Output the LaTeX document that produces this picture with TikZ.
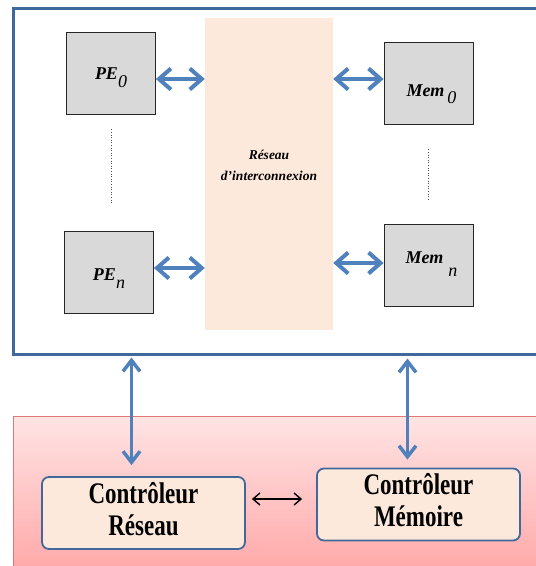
\documentclass[tikz,border=0pt]{standalone}
\usepackage{fontspec}
\setmainfont{Liberation Serif}
\usetikzlibrary{arrows.meta,positioning}
\definecolor{frameblue}{HTML}{41689A}
\definecolor{arrowblue}{HTML}{4F81BD}
\definecolor{peach}{HTML}{FDE9DB}
\definecolor{unitgray}{HTML}{D9D9D9}
\definecolor{pinktop}{HTML}{FFE4E4}
\definecolor{pinkbot}{HTML}{FFA4A4}
\definecolor{pinkline}{HTML}{E07878}
\newcommand{\unitlabel}[3]{\raisebox{#1}[0pt][0pt]{#2\raisebox{#3}{\mdseries\strut}}}
\newcommand{\ctrltext}[2]{\scalebox{1}[1.3]{\begin{tabular}{@{}c@{}}#1\\#2\end{tabular}}}
\tikzset{
  framebox/.style={
    draw=frameblue,line width=3pt,minimum width=537pt,minimum height=346pt
  },
  zonebox/.style={
    draw=pinkline,line width=.8pt,top color=pinktop,bottom color=pinkbot,
    minimum width=537pt,minimum height=165pt
  },
  unitbox/.style={
    draw=black!85,fill=unitgray,line width=.8pt,
    minimum width=89pt,minimum height=82pt,
    font=\bfseries\itshape\fontsize{18}{20}\selectfont
  },
  netbox/.style={fill=peach,minimum width=128pt,minimum height=312pt},
  nettext/.style={align=center,font=\bfseries\itshape\fontsize{13.5}{21}\selectfont},
  ctrlbox/.style={
    rounded corners=7pt,draw=frameblue,fill=peach,line width=1.8pt,
    minimum width=203pt,minimum height=72pt,
    font=\bfseries\fontsize{23}{24.6}\selectfont
  },
  biarrow/.style={
    {Straight Barb[length=12pt,width=21pt]}-{Straight Barb[length=12pt,width=21pt]},
    draw=arrowblue,line width=4pt,line cap=round
  },
  vbiarrow/.style={
    {Straight Barb[length=11pt,width=17pt]}-{Straight Barb[length=11pt,width=17pt]},
    draw=arrowblue,line width=3.5pt,line cap=round
  },
  ctrlarrow/.style={
    {Straight Barb[length=7pt,width=12pt]}-{Straight Barb[length=7pt,width=12pt]},
    draw=black,line width=1.4pt
  },
  dotline/.style={draw=black!70,line width=.6pt,dotted}
}

\begin{document}
\begin{tikzpicture}[x=1pt,y=-1pt]
\useasboundingbox (0,0) rectangle (536,566);

\node[framebox] (board) at (281.5,181) {};
\node[zonebox] (zone) at (281.5,499) {};

\node[netbox] (net) at (269,174) {};
\node[nettext] (netlabel) at ([yshift=9pt]net.center) {R\'eseau\\d'interconnexion};

\node[unitbox] (pe0) at (111,73)
{\raisebox{-6.5pt}[0pt][0pt]{PE\raisebox{-8pt}{\mdseries 0}}};
\node[unitbox] (pen) at (109,272)
{\raisebox{-8pt}[0pt][0pt]{PE\raisebox{-8pt}{\mdseries n}}};
\node[unitbox] (mem0) at (428.5,83)
{\raisebox{-13pt}[0pt][0pt]{\hspace{6pt}Mem\,\raisebox{-7pt}{\mdseries 0}}};
\node[unitbox] (memn) at (428.5,265)
{\raisebox{2pt}[0pt][0pt]{\hspace{6pt}Mem\;\raisebox{-13pt}{\mdseries n}}};

\node[ctrlbox] (ctrlnet) at (143.5,513) {\ctrltext{Contr\^oleur}{R\'eseau}};
\node[ctrlbox] (ctrlmem) at (418.5,504.5) {\ctrltext{Contr\^oleur}{M\'emoire}};

\draw[biarrow] ([yshift=-6pt]pe0.east) -- ([yshift=-6pt]pe0.east -| net.west);
\draw[biarrow] ([yshift=4pt]pen.east) -- ([yshift=4pt]pen.east -| net.west);
\draw[biarrow] ([yshift=4pt]mem0.west) -- ([yshift=4pt]mem0.west -| net.east);
\draw[biarrow] ([yshift=2pt]memn.west) -- ([yshift=2pt]memn.west -| net.east);

\draw[dotline,shorten <=15pt,shorten >=26pt] (pe0.south) -- (pe0.south |- pen.north);
\draw[dotline,shorten <=25pt,shorten >=24pt] (mem0.south) -- (memn.north);

\draw[vbiarrow,shorten >=2pt,shorten <=11pt]
  ([xshift=-12pt]ctrlnet.north) -- ([xshift=-12pt]ctrlnet.north |- board.south);
\draw[vbiarrow,shorten >=3pt,shorten <=8pt]
  ([xshift=-11pt]ctrlmem.north) -- ([xshift=-11pt]ctrlmem.north |- board.south);

\draw[ctrlarrow,shorten <=6pt,shorten >=14pt] (ctrlnet.east |- 0,499) -- (ctrlmem.west |- 0,499);
\end{tikzpicture}
\end{document}
